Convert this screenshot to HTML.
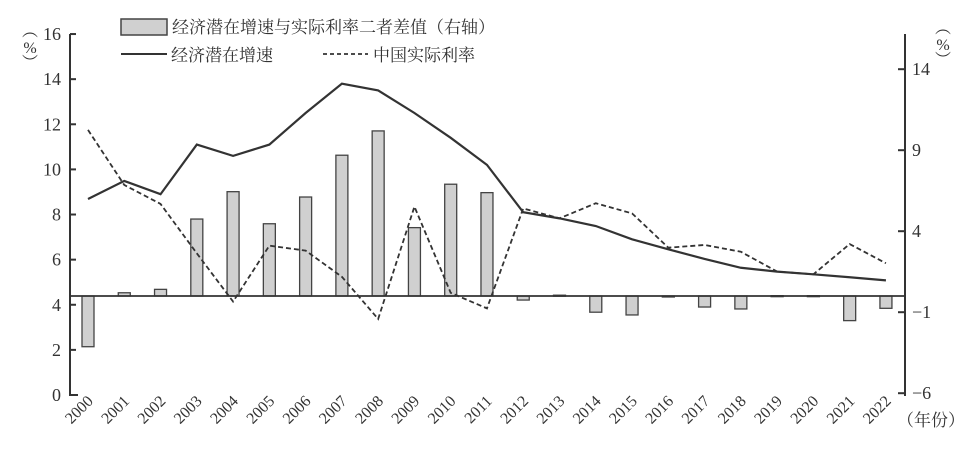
<!DOCTYPE html>
<html><head><meta charset="utf-8"><style>
html,body{margin:0;padding:0;background:#fff;}
svg{display:block;font-family:"Liberation Serif","Noto Serif CJK SC",serif;}
</style></head><body>
<svg id="chart" width="972" height="462" viewBox="0 0 972 462">
<g id="bars"></g>
<g id="lines"></g>
<g id="axes"></g>
<g>
 <rect x="121" y="19" width="46" height="16" fill="#d0d0d0" stroke="#444" stroke-width="1.5"/>
 <text x="172" y="33" font-size="17" fill="#333">经济潜在增速与实际利率二者差值（右轴）</text>
 <line x1="121" y1="54" x2="167" y2="54" stroke="#333" stroke-width="2"/>
 <text x="171" y="61" font-size="17" fill="#333">经济潜在增速</text>
 <line x1="323" y1="54" x2="368" y2="54" stroke="#333" stroke-width="1.8" stroke-dasharray="4,3"/>
 <text x="373" y="61" font-size="17" fill="#333">中国实际利率</text>
</g>
<text x="30" y="36" font-size="16" fill="#333" text-anchor="middle"><tspan x="30" dy="0">︵</tspan><tspan x="30" dy="17">%</tspan><tspan x="30" dy="15">︶</tspan></text>
<text x="943" y="33" font-size="16" fill="#333" text-anchor="middle"><tspan x="943" dy="0">︵</tspan><tspan x="943" dy="17">%</tspan><tspan x="943" dy="15">︶</tspan></text>
<text x="897" y="426" font-size="17" fill="#333">（年份）</text>
</svg>
<script>
const years=["2000","2001","2002","2003","2004","2005","2006","2007","2008","2009","2010","2011","2012","2013","2014","2015","2016","2017","2018","2019","2020","2021","2022"];
const potentialGrowth=[8.69,9.49,8.9,11.1,10.6,11.1,12.5,13.8,13.5,12.5,11.4,10.2,8.1,7.83,7.49,6.9,6.46,6.03,5.64,5.47,5.35,5.22,5.08];
const realRate=[11.75,9.31,8.47,6.28,4.14,6.62,6.4,5.24,3.37,8.35,4.53,3.84,8.27,7.83,8.5,8.05,6.53,6.65,6.35,5.47,5.35,6.69,5.84];
const gap=[-3.13,0.2,0.41,4.75,6.44,4.46,6.11,8.69,10.19,4.22,6.9,6.38,-0.25,0.05,-1.0,-1.17,-0.05,-0.68,-0.8,0.02,0.02,-1.52,-0.76];
const leftTicks=[0,2,4,6,8,10,12,14,16];
const rightTicks=[-6,-1,4,9,14];
const NS="http://www.w3.org/2000/svg";
const xL=70,xR=905;
function xs(i){return 88+i*36.27;}
function yl(v){return 395-v*22.56;}
function yr(v){return 296-v*16.2;}
function mk(tag,attrs,parent){const e=document.createElementNS(NS,tag);for(const k in attrs)e.setAttribute(k,attrs[k]);parent.appendChild(e);return e;}
const bars=document.getElementById('bars'),lines=document.getElementById('lines'),axes=document.getElementById('axes');
gap.forEach((v,i)=>{
 const y0=yr(0),y1=yr(v);
 const r=mk('rect',{x:xs(i)-6,y:Math.min(y0,y1),width:12,height:Math.max(Math.abs(y1-y0),1),fill:'#d0d0d0',stroke:'#444','stroke-width':1.3},bars);
 
 
});
const p1=mk('polyline',{points:potentialGrowth.map((v,i)=>xs(i)+','+yl(v)).join(' '),fill:'none',stroke:'#333','stroke-width':2.2},lines);


const p2=mk('polyline',{points:realRate.map((v,i)=>xs(i)+','+yl(v)).join(' '),fill:'none',stroke:'#333','stroke-width':1.8,'stroke-dasharray':'5,3'},lines);


// axes
const la=mk('line',{x1:xL,y1:34,x2:xL,y2:396,stroke:'#333','stroke-width':2},axes);


const ba=mk('line',{x1:xL-1,y1:395,x2:78,y2:395,stroke:'#333','stroke-width':2},axes);


const ra=mk('line',{x1:xR,y1:34,x2:xR,y2:396,stroke:'#333','stroke-width':2},axes);


const zl=mk('line',{x1:xL,y1:296,x2:xR,y2:296,stroke:'#333','stroke-width':1.8},axes);


leftTicks.forEach(v=>{
 mk('line',{x1:xL,y1:yl(v),x2:xL+6,y2:yl(v),stroke:'#333','stroke-width':2},axes);
 const t=mk('text',{x:61,y:yl(v)+6,'font-size':18,'text-anchor':'end',fill:'#333'},axes);
 t.textContent=v;
 
 
});
rightTicks.forEach(v=>{
 mk('line',{x1:xR-7,y1:yr(v),x2:xR,y2:yr(v),stroke:'#333','stroke-width':2},axes);
 const t=mk('text',{x:912,y:yr(v)+6,'font-size':18,fill:'#333'},axes);
 t.textContent=v<0?'\u2212'+(-v):v;
 
 
});
years.forEach((y,i)=>{
 const x=xs(i)+6,yy=402;
 const t=mk('text',{x:x,y:yy,'font-size':16,'text-anchor':'end',fill:'#333',transform:'rotate(-45 '+x+' '+yy+')'},axes);
 t.textContent=y;
 
 
});
</script>
</body></html>
